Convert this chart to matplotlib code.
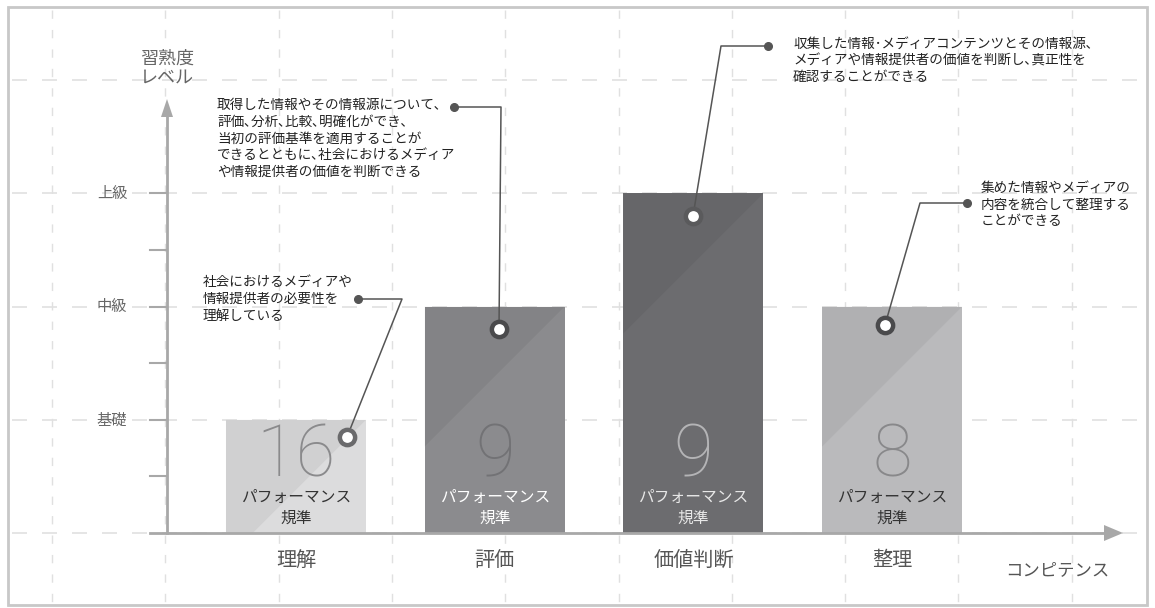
import numpy as np
import matplotlib
matplotlib.use("Agg")
import matplotlib.pyplot as plt
from matplotlib.patches import Polygon, Rectangle

plt.rcParams['font.family'] = ['Noto Sans CJK JP', 'DejaVu Sans']

# data
categories = ["理解", "評価", "価値判断", "整理"]
levels = [1, 2, 3, 2]                      # 基礎=1, 中級=2, 上級=3
standards = [16, 9, 9, 8]                 # パフォーマンス規準の数
level_labels = ["基礎", "中級", "上級"]
descriptions = [
    "社会におけるメディアや\n情報提供者の必要性を\n理解している",
    "取得した情報やその情報源について､\n評価､分析､比較､明確化ができ､\n当初の評価基準を適用することが\nできるとともに､社会におけるメディア\nや情報提供者の価値を判断できる",
    "収集した情報･メディアコンテンツとその情報源､\nメディアや情報提供者の価値を判断し､真正性を\n確認することができる",
    "集めた情報やメディアの\n内容を統合して整理する\nことができる",
]

# styling
bar_colors = ["#dcdcdd", "#8b8b8e", "#6c6c6f", "#bababc"]
num_colors = ["#8a8a8c", "#727275", "#b4b4b6", "#88888a"]
sub_colors = ["#333333", "#ffffff", "#e8e8e8", "#333333"]

W, H = 1155, 608
fig = plt.figure(figsize=(W / 100, H / 100), dpi=100)

# background layer in pixel units: frame + dashed grid
bg = fig.add_axes([0, 0, 1, 1])
bg.set_xlim(0, W)
bg.set_ylim(H, 0)
bg.axis("off")
for gx in np.arange(52, 1100, 113.3):
    bg.plot([gx, gx], [10, 603], color="#e0e0e0", lw=1, ls=(0, (6, 8)), zorder=0)
for gy in np.arange(80, 560, 113.3):
    bg.plot([12, 1145], [gy, gy], color="#e0e0e0", lw=1.2, ls=(0, (9, 9)), zorder=0)
bg.add_patch(Rectangle((8, 7), 1139, 598, fill=False, ec="#c8c8c8", lw=2, zorder=1))

# data layer: x = category index, y = level
px_x0, px_dx = 296, 198.7
px_y0, px_dy = 533, 113.25
ax = fig.add_axes([0, 0, 1, 1])
ax.patch.set_alpha(0)
ax.set_xlim(-px_x0 / px_dx, (W - px_x0) / px_dx)
ax.set_ylim(-(H - px_y0) / px_dy, px_y0 / px_dy)
ax.axis("off")

x = np.arange(len(categories))
bw = 0.705
ax.bar(x, levels, width=bw, color=bar_colors, zorder=2)

# diagonal shading on each bar (upper-left triangle slightly darker)
diag = bw * px_dx / px_dy
for xi, lv in zip(x, levels):
    l, r = xi - bw / 2, xi + bw / 2
    if lv - diag >= 0:
        pts = [(l, lv), (r, lv), (l, lv - diag)]
    else:
        pts = [(l, lv), (r, lv), (r - lv / diag * bw, 0), (l, 0)]
    ax.add_patch(Polygon(pts, closed=True, fc="black", alpha=0.05, lw=0, zorder=3))

# numbers and sub labels
for xi, n, nc, sc in zip(x, standards, num_colors, sub_colors):
    ax.text(xi, 0.67, str(n), ha="center", va="center", fontsize=52,
            family=["Roboto", "DejaVu Sans"], fontweight="light", color=nc, zorder=4)
    ax.text(xi, 0.225, "パフォーマンス\n規準", ha="center", va="center", fontsize=11.3,
            color=sc, linespacing=1.3, zorder=4)

# axes lines and arrows
ax.plot([(150 - px_x0) / px_dx, (1106 - px_x0) / px_dx], [0, 0], color="#a8a8a8", lw=2, zorder=5)
yx = (167 - px_x0) / px_dx
ax.plot([yx, yx], [0, (533 - 115) / px_dy], color="#a8a8a8", lw=2, zorder=5)
ax.add_patch(Polygon([(yx - 6 / px_dx, (533 - 117) / px_dy), (yx + 6 / px_dx, (533 - 117) / px_dy),
                      (yx, (533 - 99) / px_dy)], fc="#a8a8a8", lw=0, zorder=5))
ax.add_patch(Polygon([((1104 - px_x0) / px_dx, 8 / px_dy), ((1104 - px_x0) / px_dx, -8 / px_dy),
                      ((1123 - px_x0) / px_dx, 0)], fc="#a8a8a8", lw=0, zorder=5))

# y ticks
for lv in [0.5, 1, 1.5, 2, 2.5, 3]:
    ax.plot([(150 - px_x0) / px_dx, yx], [lv, lv], color="#a8a8a8", lw=1.5, zorder=5)
for lv, lab in zip([1, 2, 3], level_labels):
    ax.text((112 - px_x0) / px_dx, lv, lab, ha="center", va="center", fontsize=11, color="#666666")
ax.text(yx, (533 - 68) / px_dy, "習熟度\nレベル", ha="center", va="center", fontsize=13,
        color="#666666", linespacing=1.1)

# category labels
for xi, c in zip(x, categories):
    ax.text(xi, -0.24, c, ha="center", va="center", fontsize=14.5, color="#555555")
ax.text((1057 - px_x0) / px_dx, -0.33, "コンピテンス", ha="center", va="center", fontsize=12.5, color="#555555")

# callouts: ring on bar, bent leader line, dot, text (pixel layout)
rings = [(347, 437), (499, 329), (693, 216), (885, 325)]
elbows = [(402, 299), (501, 107), (721, 46), (920, 203)]
dots = [(358, 299), (454, 107), (768, 46), (967, 203)]
text_pos = [(203, 275), (217, 98), (793, 37), (981, 181)]


def d(p):
    return ((p[0] - px_x0) / px_dx, (px_y0 - p[1]) / px_dy)


ring_ec = ["#6a6a6c", "#4a4a4c", "#5a5a5c", "#4a4a4c"]
for i in range(len(categories)):
    r, e, dt = d(rings[i]), d(elbows[i]), d(dots[i])
    ax.plot([r[0], e[0], dt[0]], [r[1], e[1], dt[1]], color="#555555", lw=1.1, zorder=6)
    ax.plot(*dt, "o", ms=5.5, color="#555555", zorder=7)
    ax.plot(*r, "o", ms=11, mfc="white", mec=ring_ec[i], mew=3.2, zorder=7)
    tp = d(text_pos[i])
    ax.text(tp[0], tp[1], descriptions[i], ha="left", va="top", fontsize=9.8,
            color="#222222", linespacing=1.25, zorder=7)

fig.savefig("out.png", dpi=100)
